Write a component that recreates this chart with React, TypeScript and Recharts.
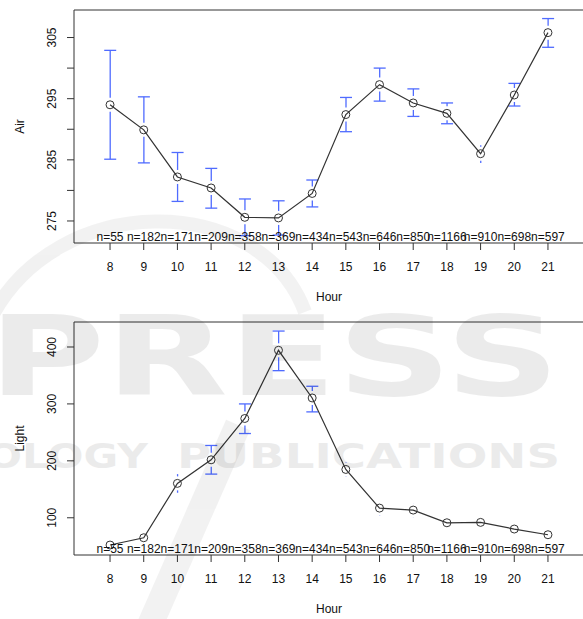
import React from 'react';
import { ComposedChart, Line, Bar, Scatter, XAxis, YAxis, ReferenceLine } from 'recharts';

const FONT = '"Liberation Sans", Arial, sans-serif';
const BLUE = '#4f6bff';
const INK = '#333';

const hours = [8, 9, 10, 11, 12, 13, 14, 15, 16, 17, 18, 19, 20, 21];
const nCounts = [55, 182, 171, 209, 358, 369, 434, 543, 646, 850, 1166, 910, 698, 597];

const airMean = [294.0, 289.9, 282.2, 280.4, 275.6, 275.5, 279.5, 292.4, 297.3, 294.3, 292.6, 286.0, 295.6, 305.8];
const airLow = [285.1, 284.5, 278.2, 277.1, 272.6, 272.7, 277.3, 289.6, 294.6, 292.1, 290.9, 284.5, 293.8, 303.4];
const airHigh = [302.9, 295.3, 286.2, 283.6, 278.6, 278.3, 281.7, 295.2, 300.0, 296.6, 294.3, 287.4, 297.5, 308.1];

const lightMean = [52.1, 64.9, 160.4, 201.8, 274.4, 394.2, 310.5, 184.9, 117.0, 113.5, 91.2, 91.9, 80.2, 70.2];
const lightLow = [46, 58, 143.9, 176.7, 248, 358.4, 286, 172, 104.5, 101, 84, 85, 73, 64];
const lightHigh = [58, 72, 176.7, 227, 300, 428, 331, 198, 129.5, 126, 98, 99, 87, 76];

const airTicks = [275, 280, 285, 290, 295, 300, 305];
const airTickLabels = [275, 285, 295, 305];
const lightTicks = [100, 200, 300, 400];

const X_DOMAIN: [number, number] = [6.93, 22.07];
const AIR_DOMAIN: [number, number] = [271.4, 309.5];
const LIGHT_DOMAIN: [number, number] = [34.6, 443.9];

function buildRows(mean: number[], low: number[], high: number[], base: number) {
  return hours.map((h, i) => ({
    hour: h,
    mean: mean[i],
    lo: low[i],
    hi: high[i],
    range: [low[i], high[i]],
    base,
    nLabel: 'n=' + nCounts[i],
  }));
}

const airRows = buildRows(airMean, airLow, airHigh, AIR_DOMAIN[0]);
const lightRows = buildRows(lightMean, lightLow, lightHigh, LIGHT_DOMAIN[0]);

// plotmeans-style CI: arms start a gap away from the point, caps only when long enough
const GAP = 7;
function CIShape(props: any) {
  const { x, y, width, height, payload } = props;
  if (x == null || y == null) return null;
  const cx = x + width / 2;
  const span = payload.hi - payload.lo;
  const my = y + (height * (payload.hi - payload.mean)) / span;
  const top = y;
  const bottom = y + height;
  const half = 6;
  const parts: React.ReactNode[] = [];
  const upLen = my - top;
  const downLen = bottom - my;
  if (upLen > GAP) {
    parts.push(<line key="u" x1={cx} x2={cx} y1={my - GAP} y2={top} />);
    if (upLen - GAP > 3) parts.push(<line key="uc" x1={cx - half} x2={cx + half} y1={top} y2={top} />);
  }
  if (downLen > GAP) {
    parts.push(<line key="d" x1={cx} x2={cx} y1={my + GAP} y2={bottom} />);
    if (downLen - GAP > 3) parts.push(<line key="dc" x1={cx - half} x2={cx + half} y1={bottom} y2={bottom} />);
  }
  return (
    <g stroke={BLUE} strokeWidth={1.3}>
      {parts}
    </g>
  );
}

function NLabel(props: any) {
  const { cx, cy, payload } = props;
  return (
    <text x={cx} y={cy - 6} textAnchor="middle" dominantBaseline="central" fontSize={12} fill="#111" fontFamily={FONT}>
      {payload.nLabel}
    </text>
  );
}

function XTick(props: any) {
  const { x, y, payload } = props;
  return (
    <text x={x} y={y + 17} textAnchor="middle" dominantBaseline="central" fontSize={12} fill="#111" fontFamily={FONT}>
      {payload.value}
    </text>
  );
}

function makeYTick(show: number[]) {
  return function YTick(props: any) {
    const { x, y, payload } = props;
    if (!show.includes(payload.value)) return <g />;
    const tx = x - 15;
    return (
      <text
        x={tx}
        y={y}
        transform={`rotate(-90, ${tx}, ${y})`}
        textAnchor="middle"
        dominantBaseline="central"
        fontSize={12}
        fill="#111"
        fontFamily={FONT}
      >
        {payload.value}
      </text>
    );
  };
}

function yTitle(text: string) {
  return (props: any) => {
    const { viewBox } = props;
    const cy = viewBox.y + viewBox.height / 2;
    return (
      <text x={20} y={cy} transform={`rotate(-90, 20, ${cy})`} textAnchor="middle" dominantBaseline="central" fontSize={12} fill="#111" fontFamily={FONT}>
        {text}
      </text>
    );
  };
}

function hourTitle(props: any) {
  const { viewBox } = props;
  const cx = viewBox.x + viewBox.width / 2;
  return (
    <text x={cx} y={viewBox.y + 54} textAnchor="middle" dominantBaseline="central" fontSize={12} fill="#111" fontFamily={FONT}>
      Hour
    </text>
  );
}

interface PanelProps {
  rows: any[];
  yDomain: [number, number];
  yTicks: number[];
  yLabels: number[];
  title: string;
  height: number;
  top: number;
  axisHeight: number;
}

function MeansPanel({ rows, yDomain, yTicks, yLabels, title, height, top, axisHeight }: PanelProps) {
  return (
    <ComposedChart width={600} height={height} data={rows} margin={{ top, right: 16, left: 0, bottom: 0 }} style={{ overflow: 'visible' }}>
      <XAxis
        type="number"
        dataKey="hour"
        domain={X_DOMAIN}
        ticks={hours}
        allowDataOverflow
        interval={0}
        height={axisHeight}
        tickSize={7}
        tickMargin={0}
        tick={<XTick />}
        stroke={INK}
        label={hourTitle}
      />
      <YAxis
        type="number"
        domain={yDomain}
        ticks={yTicks}
        allowDataOverflow
        interval={0}
        width={74}
        tickSize={7}
        tickMargin={0}
        tick={makeYTick(yLabels)}
        stroke={INK}
        label={yTitle(title)}
      />
      <ReferenceLine y={yDomain[1]} stroke={INK} ifOverflow="visible" />
      <Bar dataKey="range" barSize={12} shape={<CIShape />} isAnimationActive={false} />
      <Line
        type="linear"
        dataKey="mean"
        stroke={INK}
        strokeWidth={1.2}
        dot={{ r: 4, fill: 'none', stroke: INK, strokeWidth: 1 }}
        isAnimationActive={false}
      />
      <Scatter dataKey="base" shape={<NLabel />} isAnimationActive={false} />
    </ComposedChart>
  );
}

function Watermark() {
  return (
    <svg width={583} height={619} style={{ position: 'absolute', left: 0, top: 0, pointerEvents: 'none' }}>
      <g fill="#000" opacity={0.075} fontFamily='"DejaVu Sans", sans-serif' fontWeight="bold">
        <text x={-12} y={395} fontSize={110} textLength={572} lengthAdjust="spacingAndGlyphs">
          PRESS
        </text>
        <text x={-14} y={468} fontSize={33} textLength={162} lengthAdjust="spacingAndGlyphs">
          OLOGY
        </text>
        <text x={177} y={468} fontSize={33} textLength={383} lengthAdjust="spacingAndGlyphs">
          PUBLICATIONS
        </text>
      </g>
      <g fill="none" stroke="#000" opacity={0.05} strokeLinecap="butt">
        <path d="M -10 320 C 55 190, 260 190, 305 312" strokeWidth={14} />
        <path d="M 150 625 L 238 425" strokeWidth={26} />
      </g>
    </svg>
  );
}

export default function App() {
  return (
    <div
      style={{
        position: 'fixed',
        left: 0,
        top: 0,
        width: 583,
        height: 619,
        overflow: 'hidden',
        background: '#fff',
        fontFamily: FONT,
      }}
    >
      <div style={{ position: 'absolute', left: 0, top: 0 }}>
        <MeansPanel
          rows={airRows}
          yDomain={AIR_DOMAIN}
          yTicks={airTicks}
          yLabels={airTickLabels}
          title="Air"
          height={310}
          top={10}
          axisHeight={67}
        />
      </div>
      <div style={{ position: 'absolute', left: 0, top: 310 }}>
        <MeansPanel
          rows={lightRows}
          yDomain={LIGHT_DOMAIN}
          yTicks={lightTicks}
          yLabels={lightTicks}
          title="Light"
          height={309}
          top={12}
          axisHeight={64}
        />
      </div>
      <Watermark />
    </div>
  );
}
